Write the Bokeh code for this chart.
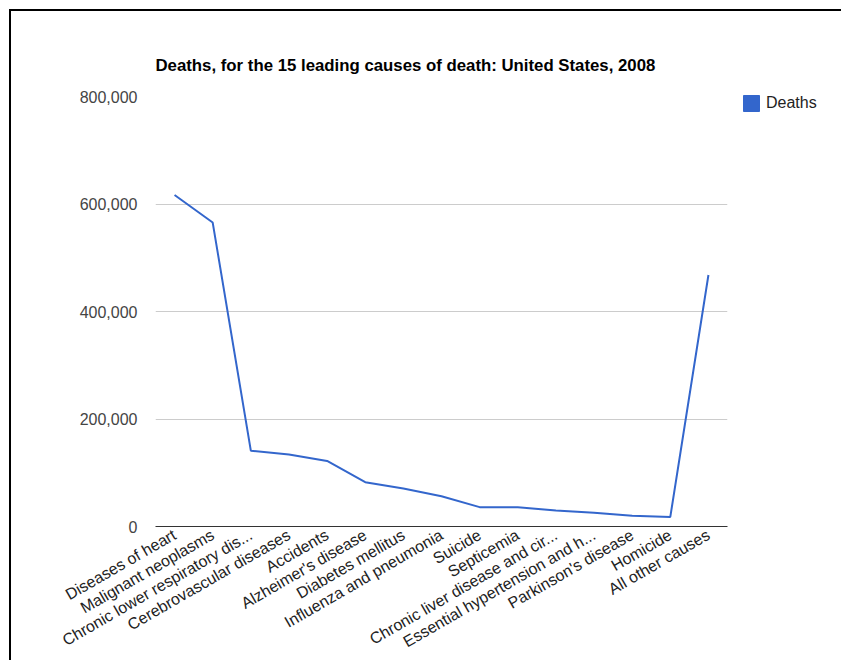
from bokeh.plotting import figure
from bokeh.models import (Range1d, NumeralTickFormatter, FixedTicker, Legend, LegendItem,
                          ColumnDataSource, Spacer)
from bokeh.layouts import column, row
from bokeh.embed import file_html
from bokeh.resources import INLINE
import math

causes = [
    "Diseases of heart",
    "Malignant neoplasms",
    "Chronic lower respiratory dis...",
    "Cerebrovascular diseases",
    "Accidents",
    "Alzheimer's disease",
    "Diabetes mellitus",
    "Influenza and pneumonia",
    "Suicide",
    "Septicemia",
    "Chronic liver disease and cir...",
    "Essential hypertension and h...",
    "Parkinson's disease",
    "Homicide",
    "All other causes",
]
deaths = [616828, 565469, 141090, 134148, 121902, 82435, 70553, 56284,
          36035, 35927, 29963, 25742, 20183, 17826, 467891]
y_ticks = [0, 200000, 400000, 600000, 800000]
series_name = "Deaths"
chart_title = "Deaths, for the 15 leading causes of death: United States, 2008"

FONT = "Liberation Sans"
BLUE = "#3366cc"

# page geometry (main plot starts at page x=11, y=11)
MAIN_W, MAIN_H = 724, 649
LEG_W = 95

p = figure(
    width=MAIN_W, height=MAIN_H,
    x_range=causes,
    y_range=Range1d(0, 800000),
    output_backend="svg", toolbar_location=None,
    min_border_left=144, min_border_top=85, min_border_right=8, min_border_bottom=134,
    title=chart_title,
)
p.outline_line_color = None
p.background_fill_color = "white"
p.border_fill_color = "white"

p.title.text_font = FONT
p.title.text_font_size = "16.8px"
p.title.text_font_style = "bold"
p.title.text_color = "#000000"
p.title.align = "left"
p.title.standoff = 44

src = ColumnDataSource(dict(cause=causes, deaths=deaths))
p.line("cause", "deaths", source=src, line_color=BLUE, line_width=2)

p.yaxis.ticker = FixedTicker(ticks=y_ticks)
p.yaxis.formatter = NumeralTickFormatter(format="0,0")
p.yaxis.axis_line_color = None
p.yaxis.major_tick_line_color = None
p.yaxis.minor_tick_line_color = None
p.yaxis.major_tick_out = 0
p.yaxis.major_label_standoff = 18
p.yaxis.major_label_text_font = FONT
p.yaxis.major_label_text_font_size = "16px"
p.yaxis.major_label_text_color = "#444444"

p.xaxis.axis_line_color = "#333333"
p.xaxis.axis_line_width = 1
p.xaxis.major_tick_line_color = None
p.xaxis.major_tick_out = 0
p.xaxis.major_label_orientation = math.pi / 6
p.xaxis.major_label_standoff = 7
p.xaxis.major_label_text_font = FONT
p.xaxis.major_label_text_font_size = "16px"
p.xaxis.major_label_text_color = "#222222"

p.xgrid.grid_line_color = None
p.ygrid.grid_line_color = "#cccccc"
p.ygrid.ticker = FixedTicker(ticks=y_ticks[1:])

# small legend figure placed to the right of the main plot;
# its swatch renderer sits outside the visible ranges (legend only)
lf = figure(width=LEG_W - 6, height=20, x_axis_location=None, y_axis_location=None,
            x_range=Range1d(0, 1), y_range=Range1d(0, 1),
            min_border=0, toolbar_location=None, output_backend="svg")
lf.outline_line_color = None
lf.grid.visible = False
lf.background_fill_color = "white"
lf.border_fill_color = "white"
swatch = ColumnDataSource(dict(l=[5], r=[6], t=[6], b=[5]))
dummy = lf.quad(left="l", right="r", top="t", bottom="b", source=swatch,
                fill_color=BLUE, line_color=BLUE)
legend = Legend(items=[LegendItem(label=series_name, renderers=[dummy], index=0)],
                location="top_left", padding=0, margin=0, spacing=0,
                border_line_alpha=0, background_fill_alpha=0,
                label_text_font=FONT, label_text_font_size="16px",
                label_text_color="#222222", glyph_width=20, glyph_height=20,
                label_standoff=5)
lf.add_layout(legend)

# black page-frame edges (top and left)
top_bar = Spacer(width=832, height=2, styles={"background-color": "black"})
left_bar = Spacer(width=2, height=MAIN_H, styles={"background-color": "black"})

legend_col = column(
    Spacer(width=LEG_W, height=82),
    row(Spacer(width=6, height=20), lf),
)

layout = column(
    Spacer(width=10, height=9),
    row(Spacer(width=9, height=2), top_bar),
    row(Spacer(width=9, height=MAIN_H), left_bar, p, legend_col),
)

open("out.html", "w").write(file_html(layout, INLINE))
